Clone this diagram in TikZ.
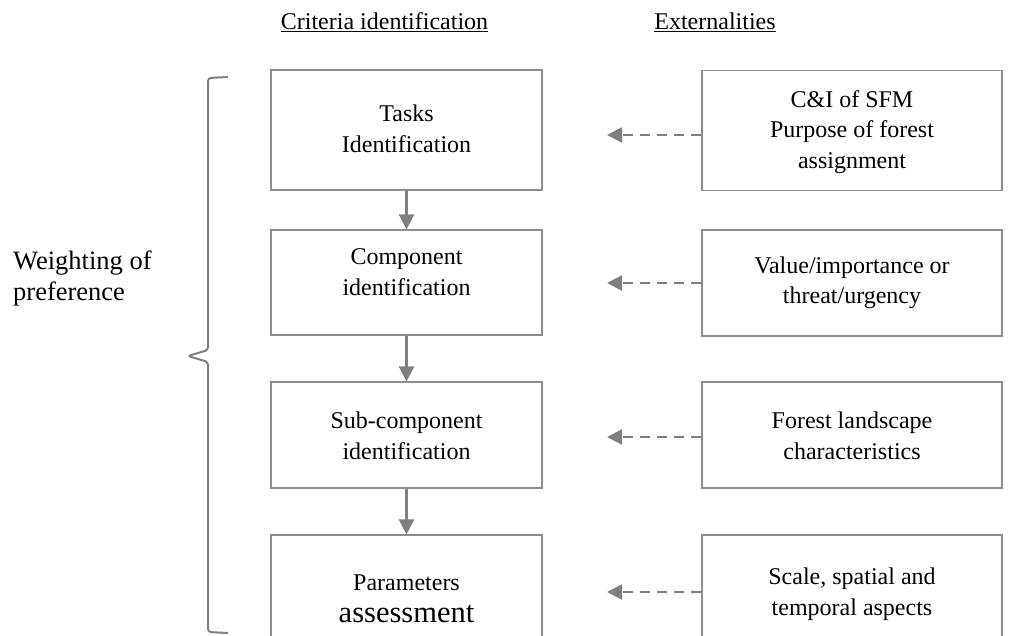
\documentclass[tikz,border=0pt]{standalone}
\usepackage{fontspec}
\setmainfont{Liberation Serif}
\usetikzlibrary{arrows.meta}
\definecolor{linegray}{HTML}{7F7F7F}
\definecolor{boxgray}{HTML}{8C8C8C}
\tikzset{
  x=1pt, y=1pt,
  stepbox/.style={draw=boxgray, line width=1.1pt, rectangle, minimum width=271pt, inner sep=0pt},
  extbox/.style={draw=boxgray, line width=1.1pt, rectangle, minimum width=300pt, inner sep=0pt},
  txt/.style={align=center, font=\fontsize{24}{30.5}\selectfont, inner sep=0pt},
  flow/.style={draw=linegray, line width=2.2pt, -{Triangle[width=15pt,length=15pt]}},
  feed/.style={draw=linegray, line width=2.2pt, dash pattern=on 10pt off 7pt, -{Triangle[width=15pt,length=15pt]}},
  bracepath/.style={draw=linegray, line width=2pt, rounded corners=3pt}
}
\begin{document}
\begin{tikzpicture}
\useasboundingbox (0,0) rectangle (1016,-636);
\clip (0,0) rectangle (1016,-636);

% column headings
\node[txt] (hcrit) at (384.5,-22) {\underline{Criteria identification}};
\node[txt] (hext) at (715,-22) {\underline{Externalities}};

% criteria steps
\node[stepbox, minimum height=120pt] (s1) at (406.5,-130) {};
\node[stepbox, minimum height=105pt] (s2) at (406.5,-282.5) {};
\node[stepbox, minimum height=106pt] (s3) at (406.5,-435) {};
\node[stepbox, minimum height=125pt] (s4) at (406.5,-597.5) {};

\node[txt] (t1) at (406.5,-129) {Tasks\\Identification};
\node[txt] (t2) at (406.5,-272) {Component\\identification};
\node[txt] (t3) at (406.5,-436) {Sub-component\\identification};
\node[txt] (t4) at (406.5,-599) {Parameters\\[1pt]{\fontsize{30.5}{32}\selectfont assessment}};

% externalities
\node[extbox, minimum height=120pt] (e1) at (852,-130.5) {};
\node[extbox, minimum height=106pt] (e2) at (852,-283) {};
\node[extbox, minimum height=106pt] (e3) at (852,-435) {};
\node[extbox, minimum height=125pt] (e4) at (852,-597.5) {};

\node[txt] (u1) at (852,-132) {C\&I of SFM\\Purpose of forest\\assignment};
\node[txt] (u2) at (852,-283) {Value/importance or\\threat/urgency};
\node[txt] (u3) at (852,-436) {Forest landscape\\characteristics};
\node[txt] (u4) at (852,-594) {Scale, spatial and\\temporal aspects};

% flow between steps
\draw[flow] (s1.south) -- (s2.north);
\draw[flow] (s2.south) -- (s3.north);
\draw[flow] (s3.south) -- (s4.north);

% external influences
\coordinate (f1) at (607,-135);
\coordinate (f2) at (607,-283);
\coordinate (f3) at (607,-437);
\coordinate (f4) at (607,-592);
\draw[feed] (e1.west |- f1) -- (f1);
\draw[feed] (e2.west |- f2) -- (f2);
\draw[feed] (e3.west |- f3) -- (f3);
\draw[feed] (e4.west |- f4) -- (f4);

% brace and weighting label
\coordinate (btop) at (228,-77);
\coordinate (bcusp) at (188,-356);
\coordinate (bbot) at (228,-633);
\draw[bracepath] (btop) -- (208,-78) -- (208,-350) -- (bcusp) -- (208,-362) -- (208,-632) -- (bbot);
\node[txt, align=left, anchor=west, font=\fontsize{26.5}{31}\selectfont] (w) at (13,-278) {Weighting of\\preference};
\end{tikzpicture}
\end{document}
